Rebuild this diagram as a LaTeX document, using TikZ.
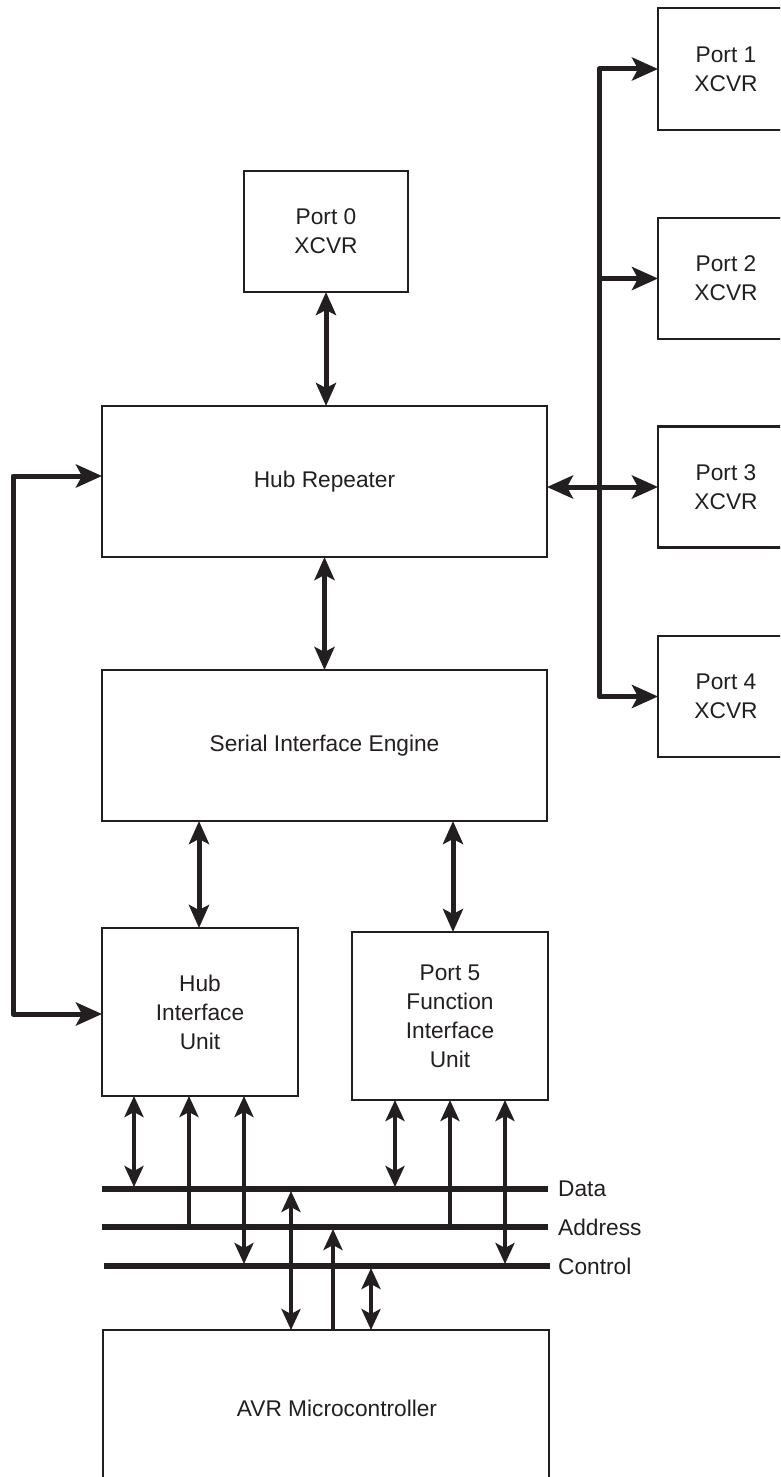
\documentclass[tikz,border=0pt]{standalone}
\usepackage{fontspec}
\setmainfont{Liberation Sans}
\usetikzlibrary{arrows.meta}
\definecolor{ink}{HTML}{231F20}
\tikzset{
  box/.style={draw=ink, line width=2.3pt, inner sep=0pt, outer sep=0pt, text=ink, align=center,
     font=\fontsize{22.7}{29}\selectfont},
  txt/.style={text=ink, inner sep=0pt, font=\fontsize{22.7}{29}\selectfont},
  conn/.style={draw=ink, line width=5pt, line join=round},
  busline/.style={draw=ink, line width=5.5pt},
  barr/.style={draw=ink, line width=4pt},
  bigend/.style={-{Stealth[length=26pt,width=23pt,inset=6pt]}},
  bigboth/.style={{Stealth[length=26pt,width=23pt,inset=6pt]}-{Stealth[length=26pt,width=23pt,inset=6pt]}},
  midboth/.style={{Stealth[length=23pt,width=20pt,inset=5pt]}-{Stealth[length=23pt,width=20pt,inset=5pt]}},
  smlend/.style={-{Stealth[length=21pt,width=19pt,inset=5pt]}},
  smlboth/.style={{Stealth[length=21pt,width=19pt,inset=5pt]}-{Stealth[length=21pt,width=19pt,inset=5pt]}},
}
\begin{document}
\begin{tikzpicture}[x=1pt,y=-1pt]
\useasboundingbox (0,0) rectangle (780,1477);
\clip (0,0) rectangle (780,1477);
\fill[white] (0,0) rectangle (780,1477);

% ports on the right
\node[box, minimum width=136pt, minimum height=122pt] (p1) at (726,69) {Port 1\\XCVR};
\node[box, minimum width=136pt, minimum height=121pt] (p2) at (726,278.5) {Port 2\\XCVR};
\node[box, minimum width=136pt, minimum height=121pt] (p3) at (726,487) {Port 3\\XCVR};
\node[box, minimum width=136pt, minimum height=121pt] (p4) at (726,696.5) {Port 4\\XCVR};

% main blocks
\node[box, minimum width=164pt, minimum height=121pt] (p0) at (326,231.5) {Port 0\\XCVR};
\node[box, minimum width=445pt, minimum height=151pt] (hub) at (324.5,481.5) {Hub Repeater};
\node[box, minimum width=445pt, minimum height=151pt] (sie) at (324.5,745.5) {Serial Interface Engine};
\node[box, minimum width=196pt, minimum height=168pt] (hiu) at (200,1012) {Hub\\Interface\\Unit};
\node[box, minimum width=196pt, minimum height=168pt] (fiu) at (450,1016) {Port 5\\Function\\Interface\\Unit};
\node[box, minimum width=446pt, minimum height=156pt] (avr) at (326,1408) {};
\node[txt] (avrtext) at (337,1408) {AVR Microcontroller};

% vertical links
\draw[conn, midboth] (p0.south) -- (p0.south |- hub.north);
\draw[conn, midboth] (hub.south) -- (hub.south |- sie.north);
\coordinate (s1) at (199,821);
\coordinate (s2) at (453,821);
\draw[conn, midboth] (s1) -- (s1 |- hiu.north);
\draw[conn, midboth] (s2) -- (s2 |- fiu.north);

% port bus on the right
\coordinate (bt) at (599,69);
\coordinate (bb) at (599,696.5);
\draw[conn, bigboth] (p1.west) -- (bt) -- (bb) -- (p4.west);
\draw[conn, bigend] (p2.west -| bt) -- (p2.west);
\draw[conn, bigboth] (p3.west -| hub.east) -- (p3.west);

% loop on the left
\coordinate (lt) at (13,476);
\coordinate (lb) at (13,1014);
\draw[conn, bigboth] (hub.west |- lt) -- (lt) -- (lb) -- (hiu.west |- lb);

% buses
\coordinate (dL) at (102,1189);  \coordinate (dR) at (548,1189);
\coordinate (aL) at (102,1227);  \coordinate (aR) at (548,1227);
\coordinate (cL) at (104,1266);  \coordinate (cR) at (550,1266);
\draw[busline] (dL) -- (dR);
\draw[busline] (aL) -- (aR);
\draw[busline] (cL) -- (cR);
\node[txt, anchor=west] (dlab) at (558,1189) {Data};
\node[txt, anchor=west] (alab) at (558,1227) {Address};
\node[txt, anchor=west] (clab) at (558,1266) {Control};

% HIU bus taps
\coordinate (h1) at (134,1096);
\coordinate (h2) at (189,1096);
\coordinate (h3) at (244,1096);
\draw[barr, smlboth] (h1) -- ([yshift=2pt]h1 |- dL);
\draw[barr, smlend] (h2 |- aL) -- (h2);
\draw[barr, smlboth] (h3) -- ([yshift=2pt]h3 |- cL);

% FIU bus taps
\coordinate (f1) at (395,1100);
\coordinate (f2) at (450,1100);
\coordinate (f3) at (505,1100);
\draw[barr, smlboth] (f1) -- ([yshift=2pt]f1 |- dL);
\draw[barr, smlend] (f2 |- aL) -- (f2);
\draw[barr, smlboth] (f3) -- ([yshift=2pt]f3 |- cL);

% AVR bus taps
\coordinate (m1) at (291,1330);
\coordinate (m2) at (333,1330);
\coordinate (m3) at (371,1330);
\draw[barr, smlboth] (m1) -- ([yshift=-2pt]m1 |- dL);
\draw[barr, smlend] (m2) -- ([yshift=-2pt]m2 |- aL);
\draw[barr, smlboth] (m3) -- ([yshift=-2pt]m3 |- cL);
\end{tikzpicture}
\end{document}
